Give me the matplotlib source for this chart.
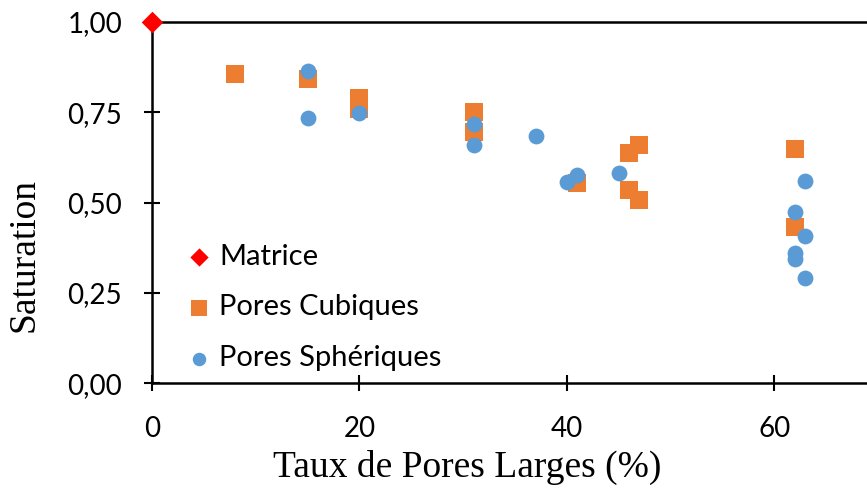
import numpy as np
import matplotlib.pyplot as plt
from matplotlib.ticker import FuncFormatter

# saturation vs. fraction of large pores
matrice_x = [0]
matrice_y = [1.00]

cubiques_x = [8, 15, 20, 20, 31, 31, 41, 46, 46, 47, 47, 62, 62]
cubiques_y = [0.856, 0.842, 0.790, 0.760, 0.752, 0.695, 0.553, 0.637, 0.536, 0.658, 0.507, 0.648, 0.432]

spheriques_x = [15, 15, 20, 31, 31, 37, 40, 41, 45, 63, 62, 63, 62, 62, 63]
spheriques_y = [0.865, 0.734, 0.749, 0.717, 0.659, 0.684, 0.557, 0.576, 0.582,
                0.560, 0.474, 0.408, 0.360, 0.343, 0.290]

plt.rcParams['font.family'] = ['Lato', 'DejaVu Sans']

fig = plt.figure(figsize=(8.67, 4.88), dpi=100)
ax = fig.add_axes([0.1753, 0.215, 0.8374, 0.74])

ax.scatter(cubiques_x, cubiques_y, marker='s', s=185, color='#ED7D31',
           linewidths=0, label='Pores Cubiques', zorder=3)
ax.scatter(spheriques_x, spheriques_y, marker='o', s=130, color='#5B9BD5',
           linewidths=0, label='Pores Sphériques', zorder=4)
ax.scatter(matrice_x, matrice_y, marker='D', s=120, color='#FF0000',
           linewidths=0, label='Matrice', zorder=5, clip_on=False)

ax.set_xlim(0, 70)
ax.set_ylim(0, 1.0)
ax.set_xticks([0, 20, 40, 60])
ax.set_yticks([0, 0.25, 0.5, 0.75, 1.0])
ax.yaxis.set_major_formatter(FuncFormatter(lambda v, p: f'{v:.2f}'.replace('.', ',')))

for sp in ax.spines.values():
    sp.set_linewidth(1.8)
    sp.set_color('black')
ax.tick_params(direction='inout', length=11, width=1.5, labelsize=20)
ax.tick_params(axis='y', pad=16)
ax.tick_params(axis='x', pad=18)

ax.set_xlabel('Taux de Pores Larges (%)', family='Liberation Serif', fontsize=27)
ax.set_ylabel('Saturation', family='Liberation Serif', fontsize=27)
ax.xaxis.set_label_coords(0.434, -0.185)
ax.yaxis.set_label_coords(-0.152, 0.355)

h, l = ax.get_legend_handles_labels()
order = [2, 0, 1]
leg = ax.legend([h[i] for i in order], [l[i] for i in order], frameon=False,
                loc='lower left', bbox_to_anchor=(-0.012, -0.04), fontsize=21,
                handletextpad=-0.3, labelspacing=0.85, markerscale=0.85)

fig.savefig('out.png', dpi=100)
